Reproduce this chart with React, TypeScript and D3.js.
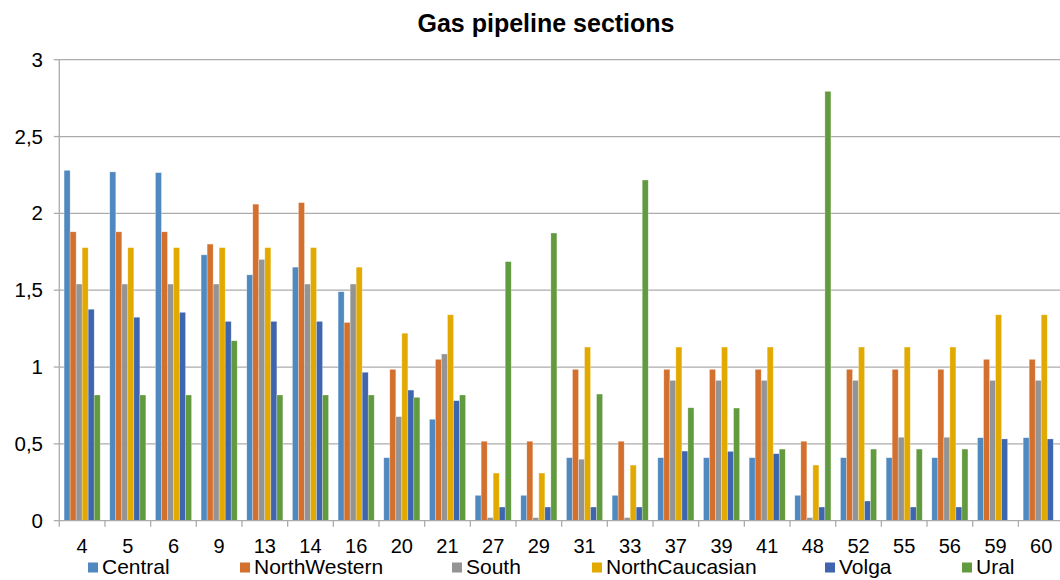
import React from 'react';
import * as d3 from 'd3';

const categories = ['4','5','6','9','13','14','16','20','21','27','29','31','33','37','39','41','48','52','55','56','59','60'];
const seriesNames = ['Central','NorthWestern','South','NorthCaucasian','Volga','Ural'];
const central = [2.28,2.27,2.265,1.73,1.6,1.65,1.49,0.41,0.66,0.165,0.165,0.41,0.165,0.41,0.41,0.41,0.165,0.41,0.41,0.41,0.54,0.54];
const northWestern = [1.88,1.88,1.88,1.8,2.06,2.07,1.29,0.985,1.05,0.517,0.517,0.985,0.517,0.985,0.985,0.985,0.517,0.985,0.985,0.985,1.05,1.05];
const south = [1.54,1.54,1.54,1.54,1.7,1.54,1.54,0.677,1.085,0.02,0.02,0.4,0.02,0.913,0.913,0.913,0.02,0.913,0.543,0.543,0.913,0.913];
const northCaucasian = [1.777,1.777,1.777,1.777,1.777,1.777,1.65,1.22,1.34,0.31,0.31,1.13,0.362,1.13,1.13,1.13,0.362,1.13,1.13,1.13,1.34,1.34];
const volga = [1.376,1.324,1.356,1.297,1.297,1.297,0.966,0.85,0.781,0.089,0.089,0.089,0.089,0.453,0.451,0.436,0.089,0.128,0.089,0.089,0.532,0.532];
const ural = [0.818,0.818,0.818,1.171,0.818,0.818,0.818,0.803,0.818,1.686,1.872,0.824,2.217,0.735,0.733,0.466,2.794,0.466,0.466,0.466,0,0];
const yTicks = [0, 0.5, 1, 1.5, 2, 2.5, 3];
const colors = ['#4F89C0', '#D4702D', '#949494', '#E2AA00', '#3E65AE', '#629B3F'];
const seriesValues = [central, northWestern, south, northCaucasian, volga, ural];

const W = 1060;
const H = 580;
const left = 59.3;
const groupW = 45.67;
const top = 59.7;
const bottom = 520.7;

export default function App() {
  const x0 = d3.scaleBand<string>().domain(categories).range([left, left + groupW * categories.length]).padding(0);
  const x1 = d3.scaleBand<string>().domain(seriesNames).range([4.8, 40.9]).padding(0);
  const y = d3.scaleLinear().domain([0, 3]).range([bottom, top]);
  const fmt = (v: number) => String(v).replace('.', ',');
  const legendX = [88, 240, 452, 592, 825, 962];

  return (
    <svg width={W} height={H} style={{ position: 'absolute', left: 0, top: 0, background: '#fff' }}
      fontFamily="'Liberation Sans', Arial, sans-serif">
      <rect x={0} y={0} width={W} height={H} fill="#fff" />
      <text x={546} y={31.5} textAnchor="middle" fontSize={25} fontWeight="bold" fill="#000">Gas pipeline sections</text>
      {yTicks.map(t => (
        <g key={t}>
          {t > 0 && <line x1={left} x2={W} y1={y(t)} y2={y(t)} stroke="#ababab" strokeWidth={1.3} />}
          <line x1={left - 5.5} x2={left} y1={y(t)} y2={y(t)} stroke="#ababab" strokeWidth={1.3} />
          <text x={43} y={y(t) + 7} textAnchor="end" fontSize={20.5} fill="#000">{fmt(t)}</text>
        </g>
      ))}
      {seriesValues.map((vals, si) => (
        <g key={si}>
          {categories.map((c, ci) => {
            const v = vals[ci];
            if (v <= 0) return null;
            const bx = (x0(c) as number) + (x1(seriesNames[si]) as number);
            return (
              <rect key={c} x={bx} y={y(v)} width={x1.bandwidth()} height={y(0) - y(v)}
                fill={colors[si]} stroke="#ffffff" strokeOpacity={0.45} strokeWidth={0.6} />
            );
          })}
        </g>
      ))}
      <line x1={left} x2={left} y1={top} y2={bottom} stroke="#ababab" strokeWidth={1.3} />
      <line x1={left} x2={W} y1={bottom} y2={bottom} stroke="#ababab" strokeWidth={1.3} />
      {categories.map((c, i) => (
        <line key={'t' + c} x1={left + i * groupW} x2={left + i * groupW} y1={bottom} y2={bottom + 6} stroke="#ababab" strokeWidth={1.3} />
      ))}
      {categories.map(c => (
        <text key={'l' + c} x={(x0(c) as number) + groupW / 2} y={552.7} textAnchor="middle" fontSize={20} fill="#000">{c}</text>
      ))}
      {seriesNames.map((n, i) => (
        <g key={n}>
          <rect x={legendX[i]} y={562.5} width={10} height={10} fill={colors[i]} />
          <text x={legendX[i] + 14} y={574} fontSize={21} fill="#000">{n}</text>
        </g>
      ))}
    </svg>
  );
}
